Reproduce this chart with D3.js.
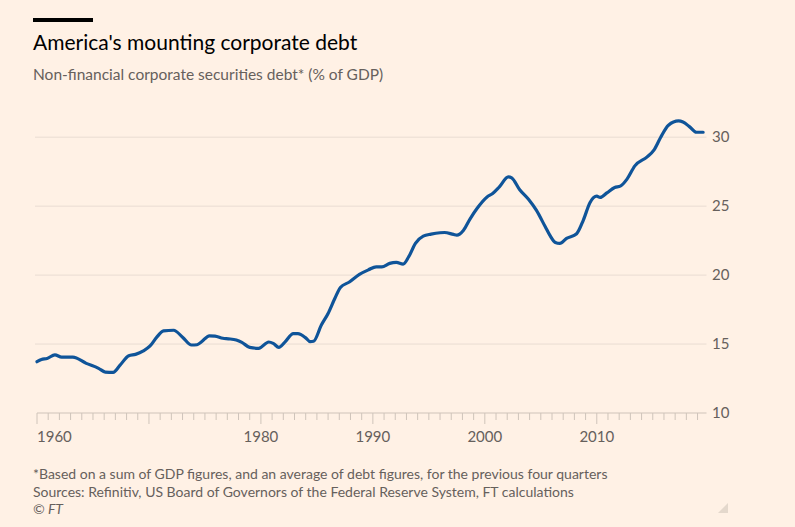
<!DOCTYPE html>
<html>
<head>
<meta charset="utf-8">
<script src="https://cdn.jsdelivr.net/npm/d3@7"></script>
<style>
  body { margin: 0; background: #fff1e5; }
  svg { display: block; font-family: Lato, "Open Sans", sans-serif; }
</style>
</head>
<body>
<svg id="chart" width="795" height="527"></svg>
<script>
// values (% of GDP), by decimal year
const years = [
  1960.0, 1960.4, 1960.9, 1961.6, 1962.2, 1963.2, 1964.4, 1965.5, 1966.1, 1966.8,
  1967.4, 1968.2, 1968.8, 1969.5, 1970.1, 1970.7, 1971.3, 1972.2, 1973.0, 1973.8,
  1974.3, 1974.7, 1975.4, 1975.9, 1976.6, 1977.1, 1977.8, 1978.3, 1979.0, 1979.8,
  1980.7, 1981.1, 1981.6, 1982.1, 1982.9, 1983.3, 1984.0, 1984.4, 1984.7, 1985.4,
  1986.0, 1986.6, 1987.1, 1987.9, 1988.8, 1989.6, 1990.3, 1990.8, 1991.5, 1992.1,
  1992.7, 1993.2, 1993.8, 1994.5, 1995.2, 1996.0, 1996.4, 1997.2, 1997.5, 1998.1,
  1998.7, 1999.3, 2000.2, 2000.7, 2001.3, 2002.1, 2002.4, 2003.1, 2003.9, 2004.6,
  2005.4, 2005.8, 2006.3, 2006.7, 2007.3, 2008.2, 2008.8, 2009.4, 2010.0, 2010.3,
  2010.9, 2011.6, 2012.1, 2012.7, 2013.4, 2014.5, 2015.1, 2015.7, 2016.4, 2017.3,
  2017.7, 2018.3, 2018.9, 2019.5
];
const debtShare = [
  13.72, 13.88, 13.95, 14.22, 14.05, 14.05, 13.6, 13.24, 12.97, 12.95,
  13.45, 14.15, 14.25, 14.5, 14.86, 15.5, 15.95, 16.0, 15.5, 14.93,
  14.95, 15.17, 15.6, 15.58, 15.42, 15.38, 15.29, 15.12, 14.76, 14.69,
  15.15, 15.05, 14.76, 15.1, 15.75, 15.75, 15.45, 15.17, 15.2, 16.38,
  17.22, 18.3, 19.1, 19.5, 20.05, 20.38, 20.6, 20.6, 20.85, 20.92,
  20.8, 21.33, 22.3, 22.83, 22.97, 23.07, 23.09, 22.95, 22.9, 23.26,
  24.1, 24.83, 25.67, 25.92, 26.4, 27.12, 27.05, 26.21, 25.5, 24.71,
  23.5, 22.9, 22.37, 22.3, 22.66, 23.0, 23.99, 25.27, 25.72, 25.63,
  25.96, 26.35, 26.45, 26.96, 27.92, 28.57, 29.06, 29.98, 30.87, 31.18,
  31.1, 30.75, 30.36, 30.36
];
const yTicks = [10, 15, 20, 25, 30];
const xLabelYears = [1960, 1980, 1990, 2000, 2010];
const xMajorYears = [1960, 1970, 1980, 1990, 2000, 2010];
const xMinorYears = d3.range(1960, 2020);

const title = "America's mounting corporate debt";
const subtitle = 'Non-financial corporate securities debt* (% of GDP)';
const notes = [
  '*Based on a sum of GDP figures, and an average of debt figures, for the previous four quarters',
  'Sources: Refinitiv, US Board of Governors of the Federal Reserve System, FT calculations'
];

const svg = d3.select('#chart');

const x = d3.scaleLinear().domain([1960, 2019.8]).range([37, 706.5]);
const y = d3.scaleLinear().domain([10, 30]).range([413, 137.2]);

// header
svg.append('rect')
  .attr('x', 33).attr('y', 18)
  .attr('width', 60).attr('height', 4)
  .attr('fill', '#000');

svg.append('text')
  .attr('x', 33).attr('y', 50)
  .attr('font-size', 21)
  .attr('fill', '#000')
  .text(title);

svg.append('text')
  .attr('x', 33).attr('y', 80)
  .attr('font-size', 15.5)
  .attr('fill', '#66605c')
  .text(subtitle);

// gridlines + right-hand labels
const yAxis = svg.append('g');
yAxis.selectAll('line.grid')
  .data(yTicks.filter((d) => d !== 10))
  .enter()
  .append('line')
  .attr('class', 'grid')
  .attr('x1', 35).attr('x2', x(2019.8))
  .attr('y1', (d) => y(d)).attr('y2', (d) => y(d))
  .attr('stroke', '#e9dcd2')
  .attr('stroke-width', 1);

yAxis.selectAll('text')
  .data(yTicks)
  .enter()
  .append('text')
  .attr('x', 712)
  .attr('y', (d) => y(d))
  .attr('dy', '0.35em')
  .attr('font-size', 15)
  .attr('fill', '#66605c')
  .text((d) => d);

// bottom axis with yearly ticks
const xAxis = svg.append('g');
xAxis.append('line')
  .attr('x1', x(1960)).attr('x2', x(2019.8))
  .attr('y1', y(10)).attr('y2', y(10))
  .attr('stroke', '#cfc4ba')
  .attr('stroke-width', 1.2);

xAxis.selectAll('line.tick')
  .data(xMinorYears)
  .enter()
  .append('line')
  .attr('class', 'tick')
  .attr('x1', (d) => x(d)).attr('x2', (d) => x(d))
  .attr('y1', y(10))
  .attr('y2', (d) => y(10) + (xMajorYears.includes(d) ? 11 : 7))
  .attr('stroke', '#cfc4ba')
  .attr('stroke-width', 1);

xAxis.selectAll('text')
  .data(xLabelYears)
  .enter()
  .append('text')
  .attr('x', (d) => x(d))
  .attr('y', 442)
  .attr('text-anchor', (d, i) => (i === 0 ? 'start' : 'middle'))
  .attr('font-size', 15)
  .attr('fill', '#66605c')
  .text((d) => d);

// the series
const line = d3.line()
  .x((d, i) => x(years[i]))
  .y((d) => y(d))
  .curve(d3.curveMonotoneX);

svg.append('path')
  .datum(debtShare)
  .attr('d', line)
  .attr('fill', 'none')
  .attr('stroke', '#0f5499')
  .attr('stroke-width', 3.2)
  .attr('stroke-linejoin', 'round')
  .attr('stroke-linecap', 'round');

// footnotes
svg.selectAll('text.note')
  .data(notes)
  .enter()
  .append('text')
  .attr('class', 'note')
  .attr('x', 33)
  .attr('y', (d, i) => 479 + i * 17.5)
  .attr('font-size', 14)
  .attr('fill', '#66605c')
  .text((d) => d);

svg.append('text')
  .attr('x', 33).attr('y', 514)
  .attr('font-size', 14)
  .attr('font-style', 'italic')
  .attr('fill', '#66605c')
  .text('\u00a9 FT');

// little corner grip
svg.append('path')
  .attr('d', 'M728,503 L728,513 L718,513 Z')
  .attr('fill', '#e4d8cc');
</script>
</body>
</html>
